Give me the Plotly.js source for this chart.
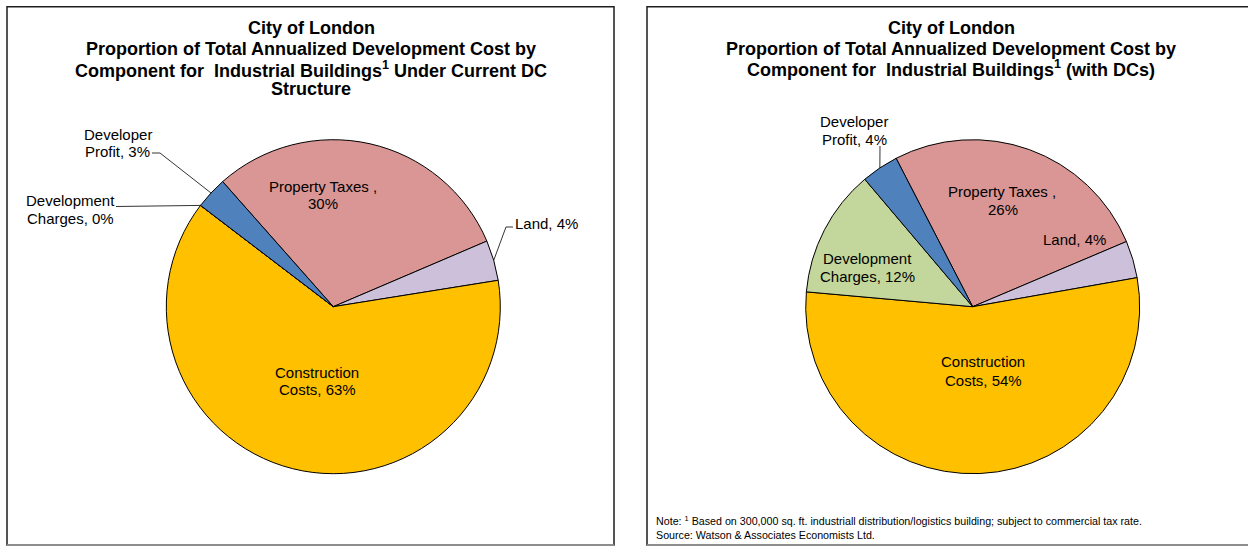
<!DOCTYPE html>
<html><head><meta charset="utf-8">
<script src="https://cdn.plot.ly/plotly-3.0.1.min.js"></script>
<style>html,body{margin:0;padding:0;background:#fff}#chart{width:1248px;height:546px}</style>
</head><body><div id="chart"></div>
<script>
// ---- data ----
const categories = ['Property Taxes ', 'Land', 'Construction Costs', 'Development Charges', 'Developer Profit'];
const sharesCurrent = [30.1, 3.9, 62.9, 0.0, 3.1];   // Under current DC structure (%)
const sharesWithDC  = [26.2, 3.6, 54.2, 12.4, 3.6];  // With DCs (%)
const sliceColors = ['#D99694', '#CCC0DA', '#FFC000', '#C3D69B', '#4F81BD'];
const titleCurrent = ['City of London', 'Proportion of Total Annualized Development Cost by',
  'Component for \u00A0Industrial Buildings<sup>1</sup> Under Current DC', 'Structure'];
const titleWithDC = ['City of London', 'Proportion of Total Annualized Development Cost by',
  'Component for \u00A0Industrial Buildings<sup>1</sup> (with DCs)'];
const noteLines = ['Note: <sup>1</sup> Based on 300,000 sq. ft. industriall distribution/logistics building; subject to commercial tax rate.',
  'Source: Watson & Associates Economists Ltd.'];

// ---- layout helpers ----
const W = 1248, H = 546;
const X = p => p / W, Y = p => 1 - p / H;
const FONT = 'Liberation Sans, Arial, sans-serif';

const pies = [
  {shares: sharesCurrent, cx: 333.3, cy: 306.7, r: 167, rot: -41.5,
   title: titleCurrent, titleX: 311, titleY: [28.3, 48.5, 69, 89.3],
   lab: [
     {lines: [[323.3, 186], [323.3, 203.5]], wrap: 'pct'},
     {lines: [[546, 223.5]], wrap: 'none'},
     {lines: [[317.3, 372.3], [317.5, 389.5]], wrap: 'word'},
     {lines: [[70.5, 200.7], [70, 218.3]], wrap: 'word'},
     {lines: [[117.7, 134], [117.8, 151.7]], wrap: 'word'}
   ],
   leaders: [
     {i: 4, from: [[152, 153], [160, 153]]},
     {i: 3, from: [[116, 206.5]], edge: 'start'},
     {i: 1, from: [[513, 227], [506, 227]]}
   ]},
  {shares: sharesWithDC, cx: 972.7, cy: 306.7, r: 167, rot: -27.3,
   title: titleWithDC, titleX: 951, titleY: [27.5, 48.5, 68.7],
   lab: [
     {lines: [[1002, 191.7], [1002.5, 210]], wrap: 'pct'},
     {lines: [[1074.3, 239]], wrap: 'none'},
     {lines: [[983, 361.7], [983.2, 380]], wrap: 'word'},
     {lines: [[867.2, 258.3], [867, 276.7]], wrap: 'word'},
     {lines: [[854, 121], [854, 139.3]], wrap: 'word'}
   ],
   leaders: [
     {i: 4, from: [[880, 146]]}
   ]}
];

function sliceAngle(shares, i, rot, where) {
  const tot = shares.reduce((a, b) => a + b, 0);
  let a = rot;
  for (let k = 0; k < i; k++) a += shares[k] / tot * 360;
  if (where === 'start') return a;
  return a + shares[i] / tot * 180;
}

const data = [], annotations = [], shapes = [];

pies.forEach(p => {
  data.push({
    type: 'pie', values: p.shares, labels: categories, sort: false, direction: 'clockwise',
    rotation: p.rot, textinfo: 'none', hoverinfo: 'label+percent', showlegend: false,
    marker: {colors: sliceColors, line: {color: '#000', width: 1}},
    domain: {x: [X(p.cx - p.r), X(p.cx + p.r)], y: [Y(p.cy + p.r), Y(p.cy - p.r)]}
  });
  const tot = p.shares.reduce((a, b) => a + b, 0);
  categories.forEach((c, i) => {
    const pct = Math.round(p.shares[i] / tot * 100) + '%';
    let lines;
    const L = p.lab[i];
    if (L.wrap === 'pct') lines = [c + ',', pct];
    else if (L.wrap === 'word') {
      const sp = c.indexOf(' ');
      lines = [c.slice(0, sp), c.slice(sp + 1) + ', ' + pct];
    } else lines = [c + ', ' + pct];
    lines.forEach((t, j) => {
      annotations.push({xref: 'paper', yref: 'paper', x: X(L.lines[j][0]), y: Y(L.lines[j][1]),
        xanchor: 'center', yanchor: 'middle', showarrow: false, text: t,
        font: {family: FONT, size: 15, color: '#000'}});
    });
  });
  p.title.forEach((t, j) => {
    annotations.push({xref: 'paper', yref: 'paper', x: X(p.titleX), y: Y(p.titleY[j]),
      xanchor: 'center', yanchor: 'middle', showarrow: false, text: '<b>' + t + '</b>',
      font: {family: FONT, size: 18, color: '#000'}});
  });
  p.leaders.forEach(ld => {
    const ang = sliceAngle(p.shares, ld.i, p.rot, ld.edge) * Math.PI / 180;
    const ex = p.cx + p.r * Math.sin(ang), ey = p.cy - p.r * Math.cos(ang);
    const pts = ld.from.concat([[ex, ey]]);
    const path = pts.map((q, k) => (k ? 'L' : 'M') + X(q[0]) + ',' + Y(q[1])).join(' ');
    shapes.push({type: 'path', xref: 'paper', yref: 'paper', path, line: {color: '#000', width: 0.8}});
  });
});

// panel frames
[[7, 614], [647, 1256]].forEach(b => {
  shapes.push({type: 'rect', xref: 'paper', yref: 'paper', x0: X(b[0]), x1: X(b[1]), y0: Y(545), y1: Y(6.7),
    line: {color: '#1e1e1e', width: 1.5}, layer: 'below'});
  shapes.push({type: 'line', xref: 'paper', yref: 'paper', x0: X(b[0]), x1: X(b[1]), y0: Y(545), y1: Y(545),
    line: {color: '#a0a0a0', width: 1.5}});
});

noteLines.forEach((t, j) => {
  annotations.push({xref: 'paper', yref: 'paper', x: X(654), y: Y([520, 535][j]), xanchor: 'left', yanchor: 'middle',
    showarrow: false, text: t, font: {family: FONT, size: 10.7, color: '#000'}});
});

Plotly.newPlot('chart', data, {
  width: W, height: H, margin: {l: 0, r: 0, t: 0, b: 0},
  paper_bgcolor: '#fff', plot_bgcolor: '#fff',
  annotations, shapes
}, {displayModeBar: false, staticPlot: true});
</script></body></html>
